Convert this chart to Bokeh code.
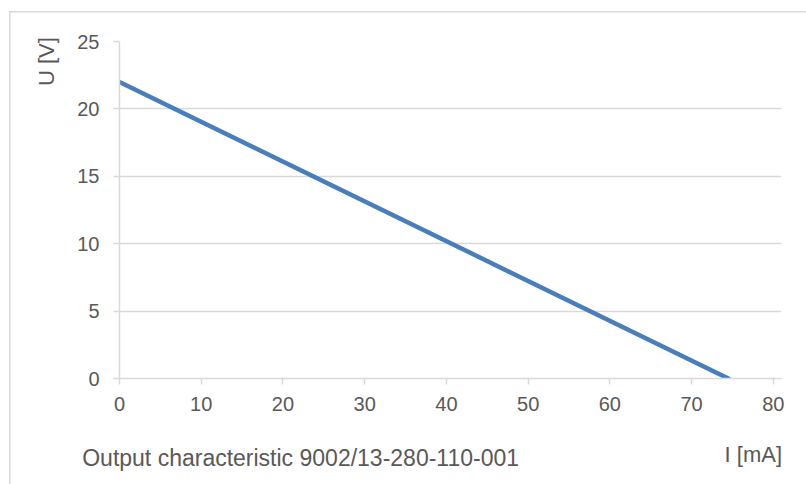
import numpy as np
from bokeh.plotting import figure
from bokeh.models import Label, FixedTicker, Range1d, InlineStyleSheet
from bokeh.embed import file_html
from bokeh.resources import INLINE

# Data
current_mA = [0.0, 74.5]
voltage_V = [22.0, 0.0]
x_ticks = [0, 10, 20, 30, 40, 50, 60, 70, 80]
y_ticks = [0, 5, 10, 15, 20, 25]

FONT = "Liberation Sans"
TXT = "#595959"
GRID = "#d9d9d9"

frame_css = InlineStyleSheet(css=(
    ":host { background:"
    " linear-gradient(#d9d9d9, #d9d9d9) 8.5px 10.5px / 1.5px 100% no-repeat,"
    " linear-gradient(#d9d9d9, #d9d9d9) 8.5px 10.5px / 100% 1.5px no-repeat,"
    " #ffffff; }"
))

p = figure(
    frame_width=662, frame_height=337,
    min_border_left=119, min_border_right=25,
    min_border_top=41, min_border_bottom=106,
    x_range=Range1d(0, 81), y_range=Range1d(0, 25),
    output_backend="svg", toolbar_location=None,
    stylesheets=[frame_css],
)
p.outline_line_color = None
p.background_fill_color = "white"
p.border_fill_color = None

p.xgrid.visible = False
p.ygrid.grid_line_color = GRID
p.ygrid.grid_line_width = 1.5
p.ygrid.ticker = FixedTicker(ticks=y_ticks)

for ax in (p.xaxis[0], p.yaxis[0]):
    ax.axis_line_color = GRID
    ax.axis_line_width = 1.5
    ax.major_tick_line_color = GRID
    ax.major_tick_line_width = 1.5
    ax.major_tick_out = 6
    ax.major_tick_in = 0
    ax.minor_tick_line_color = None
    ax.major_label_text_font = FONT
    ax.major_label_text_font_size = "20px"
    ax.major_label_text_color = TXT

p.xaxis.ticker = FixedTicker(ticks=x_ticks)
p.yaxis.ticker = FixedTicker(ticks=y_ticks)
p.xaxis.major_label_standoff = 12
p.yaxis.major_label_standoff = 14

p.line(current_mA, voltage_V, line_color="#4a7ebb", line_width=4.5, line_cap="round")

p.add_layout(Label(x=81.7, y=457, x_units="canvas", y_units="canvas",
                   text="Output characteristic 9002/13-280-110-001",
                   text_font=FONT, text_font_size="23px", text_color=TXT,
                   text_align="left", text_baseline="alphabetic"), "below")
p.add_layout(Label(x=781.5, y=454, x_units="canvas", y_units="canvas", text="I [mA]",
                   text_font=FONT, text_font_size="22px", text_color=TXT,
                   text_align="right", text_baseline="alphabetic"), "below")
p.add_layout(Label(x=45.5, y=85.5, x_units="canvas", y_units="canvas", text="U [V]",
                   angle=np.pi / 2,
                   text_font=FONT, text_font_size="22px", text_color=TXT,
                   text_align="left", text_baseline="alphabetic"), "left")

open("out.html", "w").write(file_html(p, INLINE))
